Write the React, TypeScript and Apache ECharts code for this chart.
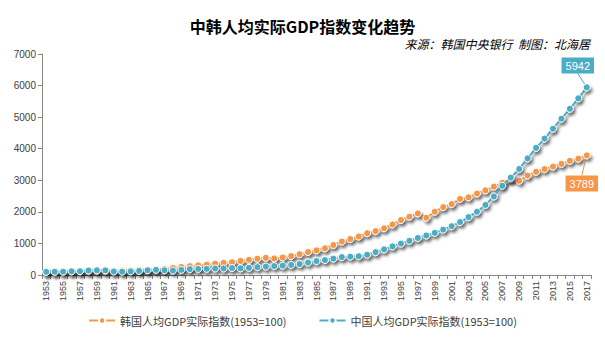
import React, { useEffect, useRef } from "react";
import * as echarts from "echarts";

const years: string[] = [];
for (let y = 1953; y <= 2017; y++) years.push(String(y));

const koreaIndex = [
  100, 106, 110, 108, 115, 120, 123, 123, 128, 140,
  145, 155, 162, 180, 192, 222, 255, 280, 305, 325,
  360, 385, 405, 445, 480, 517, 545, 525, 555, 600,
  660, 725, 780, 845, 950, 1060, 1140, 1220, 1325, 1390,
  1480, 1600, 1740, 1847, 1950, 1815, 2005, 2150, 2245, 2410,
  2460, 2580, 2680, 2800, 2920, 3040, 2985, 3150, 3270, 3355,
  3435, 3520, 3615, 3685, 3789,
];

const chinaIndex = [
  100, 102, 106, 118, 120, 142, 150, 147, 110, 104,
  114, 130, 150, 163, 150, 141, 161, 186, 192, 194,
  206, 208, 220, 212, 226, 250, 266, 284, 296, 318,
  347, 394, 441, 473, 519, 568, 582, 596, 642, 724,
  812, 907, 995, 1083, 1172, 1251, 1335, 1437, 1546, 1676,
  1833, 2005, 2220, 2487, 2827, 3084, 3358, 3694, 4026, 4321,
  4633, 4950, 5265, 5595, 5942,
];

const yTicks = { min: 0, max: 7000, interval: 1000 };

const KOREA = "韩国人均GDP实际指数(1953=100)";
const CHINA = "中国人均GDP实际指数(1953=100)";
const ORANGE = "#F79646";
const BLUE = "#4BACC6";

function withEndLabel(values: number[], color: string, pos: string) {
  return values.map((v, i) =>
    i === values.length - 1
      ? {
          value: v,
          label: {
            show: true,
            position: pos,
            backgroundColor: color,
            color: "#fff",
            padding: [3, 4, 2, 4],
            fontSize: 11,
            fontFamily: "Liberation Sans, Arial, sans-serif",
            distance: 12,
          },
          labelLine: { show: true, lineStyle: { color, width: 1 } },
        }
      : v
  );
}

const lineShadow = {
  shadowColor: "rgba(0,0,0,0.45)",
  shadowBlur: 3,
  shadowOffsetX: 2,
  shadowOffsetY: 3,
};

export default function App() {
  const ref = useRef<HTMLDivElement>(null);
  useEffect(() => {
    if (!ref.current) return;
    const chart = echarts.init(ref.current, undefined, { renderer: "svg" });
    chart.setOption({
      animation: false,
      backgroundColor: "#fff",
      title: [
        {
          text: "中韩人均实际GDP指数变化趋势",
          left: "center",
          top: 13,
          textStyle: {
            fontSize: 16,
            fontWeight: "bold",
            color: "#000",
            fontFamily: "Noto Sans CJK SC",
          },
        },
        {
          text: "来源：韩国中央银行  制图：北海居",
          right: 10,
          top: 32,
          textStyle: {
            fontSize: 12,
            fontStyle: "italic",
            fontWeight: "normal",
            color: "#000",
            fontFamily: "Noto Sans CJK SC",
          },
        },
      ],
      legend: {
        data: [KOREA, CHINA],
        bottom: 9,
        left: "center",
        itemWidth: 26,
        itemHeight: 8,
        itemGap: 32,
        textStyle: {
          fontSize: 11,
          color: "#404040",
          fontFamily: "Noto Sans CJK SC",
        },
      },
      grid: { left: 42, right: 14, top: 54, bottom: 65 },
      xAxis: {
        type: "category",
        data: years,
        boundaryGap: true,
        axisLine: { lineStyle: { color: "#868686" } },
        axisTick: { show: true, interval: 0, length: 4, lineStyle: { color: "#868686" } },
        axisLabel: {
          interval: 1,
          rotate: 90,
          fontSize: 9,
          color: "#404040",
          margin: 6,
          fontFamily: "Liberation Sans, Arial, sans-serif",
        },
      },
      yAxis: {
        type: "value",
        min: yTicks.min,
        max: yTicks.max,
        interval: yTicks.interval,
        splitLine: { show: false },
        axisLine: { show: true, lineStyle: { color: "#868686" } },
        axisTick: { show: true, length: 4, lineStyle: { color: "#868686" } },
        axisLabel: {
          fontSize: 10,
          color: "#404040",
          margin: 6,
          formatter: (v: number) => String(v),
          fontFamily: "Liberation Sans, Arial, sans-serif",
        },
      },
      series: [
        {
          name: KOREA,
          type: "line",
          data: withEndLabel(koreaIndex, ORANGE, "bottom"),
          symbol: "circle",
          symbolSize: 7,
          showAllSymbol: true,
          color: ORANGE,
          lineStyle: { color: ORANGE, width: 2, ...lineShadow },
          itemStyle: { color: ORANGE, borderColor: "#fff", borderWidth: 1, ...lineShadow },
          labelLayout: { dx: -5, dy: 4 },
          z: 2,
        },
        {
          name: CHINA,
          type: "line",
          data: withEndLabel(chinaIndex, BLUE, "top"),
          symbol: "circle",
          symbolSize: 7,
          showAllSymbol: true,
          color: BLUE,
          lineStyle: { color: BLUE, width: 2, ...lineShadow },
          itemStyle: { color: BLUE, borderColor: "#fff", borderWidth: 1, ...lineShadow },
          labelLayout: { dx: -9, dy: 2 },
          z: 3,
        },
      ],
    });
    return () => chart.dispose();
  }, []);
  return (
    <div
      ref={ref}
      style={{ position: "fixed", left: 0, top: 0, width: 605, height: 340 }}
    />
  );
}
